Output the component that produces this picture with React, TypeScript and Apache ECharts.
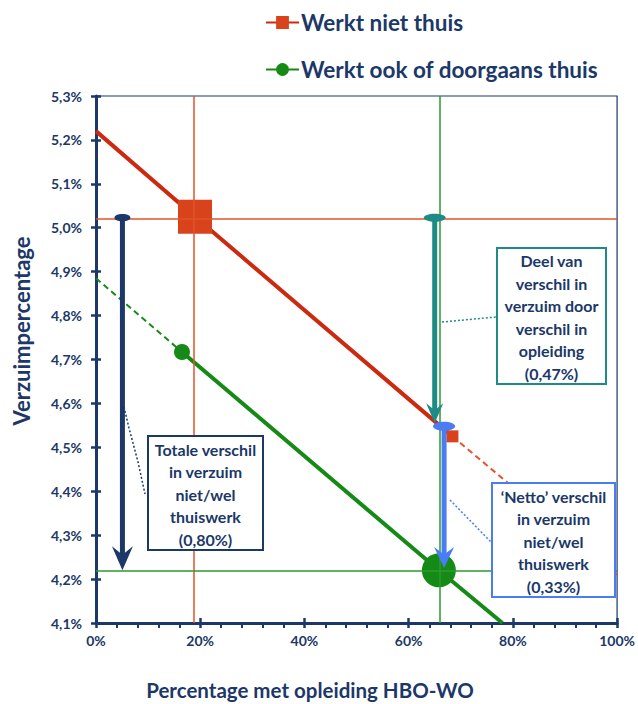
import React, { useEffect, useRef } from 'react';
import * as echarts from 'echarts';

// ---------- data ----------
const seriesNames = ['Werkt niet thuis', 'Werkt ook of doorgaans thuis'];

const redSolidX = [0, 19, 68.4];
const redSolidY = [5.22, 5.025, 4.525];
const redMarkerSizes = [0, 34, 12];
const redDashX = [68.4, 100];
const redDashY = [4.525, 4.21];

const greenSolidX = [16.5, 65.8, 78];
const greenSolidY = [4.717, 4.22, 4.1];
const greenMarkerSizes = [16, 34, 0];
const greenDashX = [0, 16.5];
const greenDashY = [4.885, 4.717];

const refRedX = 18.8;
const refRedY = 5.023;
const refGreenX = 65.9;
const refGreenY = 4.22;

// arrows: x position, start value, end value
const arrowX = [5.07, 65.0, 66.8];
const arrowFrom = [5.023, 5.023, 4.548];
const arrowTo = [4.22, 4.555, 4.225];

const boxTexts = [
  'Totale verschil\nin verzuim\nniet/wel\nthuiswerk\n(0,80%)',
  'Deel van\nverschil in\nverzuim door\nverschil in\nopleiding\n(0,47%)',
  '\u2018Netto\u2019 verschil\nin verzuim\nniet/wel\nthuiswerk\n(0,33%)',
];

const xAxisTitle = 'Percentage met opleiding HBO-WO';
const yAxisTitle = 'Verzuimpercentage';

// ---------- styles ----------
const NAVY = '#1b3868';
const RED_LINE = '#cc2a10';
const RED_MARK = '#d8431b';
const RED_THIN = '#e0532b';
const GREEN = '#168a16';
const GREEN_THIN = '#2c9a2c';
const TEAL = '#1e8b86';
const BLUE = '#4a7df5';
const FONT = 'Lato, "Open Sans", sans-serif';

const arrowColors = [NAVY, TEAL, BLUE];
const ellipseR = [[8, 3.6], [11, 4], [11, 4.5]];
const arrowHead = [[10.5, 24], [8.5, 20], [10, 21]];

const boxLayout = [
  { x: 148, y: 436, w: 115, h: 114, color: NAVY },
  { x: 497, y: 248, w: 109, h: 136, color: TEAL },
  { x: 492, y: 483, w: 123, h: 114, color: BLUE },
];
const leaders = [
  { pts: [[124, 407], [129, 428], [138, 462], [145, 494]], color: NAVY },
  { pts: [[442, 322], [496, 317]], color: TEAL },
  { pts: [[450, 500], [491, 542]], color: BLUE },
];

export default function App() {
  const ref = useRef<HTMLDivElement>(null);

  useEffect(() => {
    if (!ref.current) return;
    const chart = echarts.init(ref.current, null, { renderer: 'svg' });

    const fmtY = (v: number) => v.toFixed(1).replace('.', ',') + '%';

    const option: any = {
      animation: false,
      backgroundColor: '#ffffff',
      textStyle: { fontFamily: FONT },
      legend: {
        data: seriesNames,
        orient: 'vertical',
        left: 260,
        top: 6,
        itemGap: 24,
        itemWidth: 33,
        itemHeight: 16,
        textStyle: { fontSize: 22.5, fontWeight: 'bold', color: NAVY, fontFamily: FONT, padding: [0, 0, 0, -3] },
      },
      grid: {
        left: 96,
        top: 96,
        width: 527,
        height: 527,
        show: true,
        borderColor: NAVY,
        borderWidth: 1.2,
        backgroundColor: 'transparent',
      },
      xAxis: [
        {
          type: 'value',
          min: 0,
          max: 100,
          interval: 20,
          position: 'bottom',
          splitLine: { show: false },
          axisLine: { lineStyle: { color: NAVY, width: 3 } },
          axisTick: { show: true, length: 5, lineStyle: { color: NAVY, width: 2.5 } },
          minorTick: { show: true, splitNumber: 5, length: 5, lineStyle: { color: NAVY, width: 2 } },
          axisLabel: {
            formatter: (v: number) => v + '%',
            color: NAVY,
            fontWeight: 'bold',
            fontSize: 14,
            margin: 10,
            fontFamily: FONT,
          },
        },
        {
          type: 'value',
          min: 0,
          max: 100,
          interval: 20,
          position: 'bottom',
          splitLine: { show: false },
          axisLine: { show: false },
          axisTick: { show: true, inside: true, length: 5, lineStyle: { color: NAVY, width: 2.5 } },
          axisLabel: { show: false },
        },
      ],
      yAxis: [
        {
          type: 'value',
          min: 4.1,
          max: 5.3,
          interval: 0.1,
          position: 'left',
          splitLine: { show: false },
          axisLine: { lineStyle: { color: NAVY, width: 3 } },
          axisTick: { show: true, length: 5, lineStyle: { color: NAVY, width: 2.5 } },
          axisLabel: {
            formatter: fmtY,
            color: NAVY,
            fontWeight: 'bold',
            fontSize: 14,
            margin: 14,
            fontFamily: FONT,
          },
        },
        {
          type: 'value',
          min: 4.1,
          max: 5.3,
          interval: 0.1,
          position: 'left',
          splitLine: { show: false },
          axisLine: { show: false },
          axisTick: { show: true, inside: true, length: 5, lineStyle: { color: NAVY, width: 2.5 } },
          axisLabel: { show: false },
        },
      ],
      series: [
        {
          name: seriesNames[0],
          type: 'line',
          z: 4,
          symbol: 'rect',
          symbolSize: 12,
          lineStyle: { color: RED_LINE, width: 4 },
          itemStyle: { color: RED_MARK },
          data: redSolidX.map((x, i) => ({
            value: [x, redSolidY[i]],
            symbol: redMarkerSizes[i] ? 'rect' : 'none',
            symbolSize: redMarkerSizes[i],
          })),
          markLine: {
            silent: true,
            symbol: 'none',
            label: { show: false },
            lineStyle: { color: RED_THIN, width: 1.5, type: 'solid' },
            data: [{ xAxis: refRedX }, { yAxis: refRedY }],
          },
        },
        {
          name: seriesNames[0] + ' (extrapolatie)',
          type: 'line',
          z: 3,
          symbol: 'none',
          lineStyle: { color: RED_THIN, width: 2, type: [6, 4] },
          data: redDashX.map((x, i) => [x, redDashY[i]]),
        },
        {
          name: seriesNames[1],
          type: 'line',
          z: 4,
          symbol: 'circle',
          symbolSize: 12,
          lineStyle: { color: GREEN, width: 4 },
          itemStyle: { color: GREEN },
          data: greenSolidX.map((x, i) => ({
            value: [x, greenSolidY[i]],
            symbol: greenMarkerSizes[i] ? 'circle' : 'none',
            symbolSize: greenMarkerSizes[i],
          })),
          markLine: {
            silent: true,
            symbol: 'none',
            label: { show: false },
            lineStyle: { color: GREEN_THIN, width: 1.5, type: 'solid' },
            data: [{ xAxis: refGreenX }, { yAxis: refGreenY }],
          },
        },
        {
          name: seriesNames[1] + ' (extrapolatie)',
          type: 'line',
          z: 3,
          symbol: 'none',
          lineStyle: { color: GREEN, width: 2, type: [6, 4] },
          data: greenDashX.map((x, i) => [x, greenDashY[i]]),
        },
        {
          name: 'Pijlen',
          type: 'custom',
          z: 6,
          data: arrowX.map((x, i) => [x, arrowFrom[i], arrowTo[i]]),
          renderItem: (params: any, api: any) => {
            const i = params.dataIndex;
            const top = api.coord([api.value(0), api.value(1)]);
            const tip = api.coord([api.value(0), api.value(2)]);
            const c = arrowColors[i];
            const [aw, ah] = arrowHead[i];
            const notch = ah * 0.35;
            return {
              type: 'group',
              children: [
                {
                  type: 'line',
                  shape: { x1: top[0], y1: top[1], x2: tip[0], y2: tip[1] - ah + notch + 2 },
                  style: { stroke: c, lineWidth: 5 },
                },
                {
                  type: 'polygon',
                  shape: {
                    points: [
                      [tip[0], tip[1]],
                      [tip[0] - aw, tip[1] - ah],
                      [tip[0], tip[1] - ah + notch],
                      [tip[0] + aw, tip[1] - ah],
                    ],
                  },
                  style: { fill: c },
                },
                {
                  type: 'ellipse',
                  shape: { cx: top[0], cy: top[1], rx: ellipseR[i][0], ry: ellipseR[i][1] },
                  style: { fill: c },
                },
              ],
            };
          },
        },
      ],
      graphic: [
        ...leaders.map((l) => ({
          type: 'polyline',
          z: 20,
          shape: { points: l.pts },
          style: { stroke: l.color, lineWidth: 1.5, lineDash: [2, 2], fill: null },
        })),
        ...boxLayout.flatMap((b, i) => [
          {
            type: 'rect',
            z: 30,
            shape: { x: b.x, y: b.y, width: b.w, height: b.h },
            style: { fill: '#ffffff', stroke: b.color, lineWidth: 2 },
          },
          {
            type: 'text',
            z: 31,
            x: b.x + b.w / 2,
            y: b.y + b.h / 2 + 1,
            style: {
              text: boxTexts[i],
              fill: NAVY,
              font: `bold 16px ${FONT}`,
              align: 'center',
              verticalAlign: 'middle',
              lineHeight: 22.5,
            },
          },
        ]),
        {
          type: 'text',
          x: 310,
          y: 690,
          style: {
            text: xAxisTitle,
            fill: NAVY,
            font: `bold 20.5px ${FONT}`,
            align: 'center',
            verticalAlign: 'middle',
          },
        },
        {
          type: 'text',
          x: 21,
          y: 331,
          rotation: Math.PI / 2,
          style: {
            text: yAxisTitle,
            fill: NAVY,
            font: `bold 22px ${FONT}`,
            align: 'center',
            verticalAlign: 'middle',
          },
        },
      ],
    };

    chart.setOption(option);
    return () => chart.dispose();
  }, []);

  return (
    <div
      ref={ref}
      style={{ position: 'fixed', left: 0, top: 0, width: 638, height: 704, background: '#fff' }}
    />
  );
}
